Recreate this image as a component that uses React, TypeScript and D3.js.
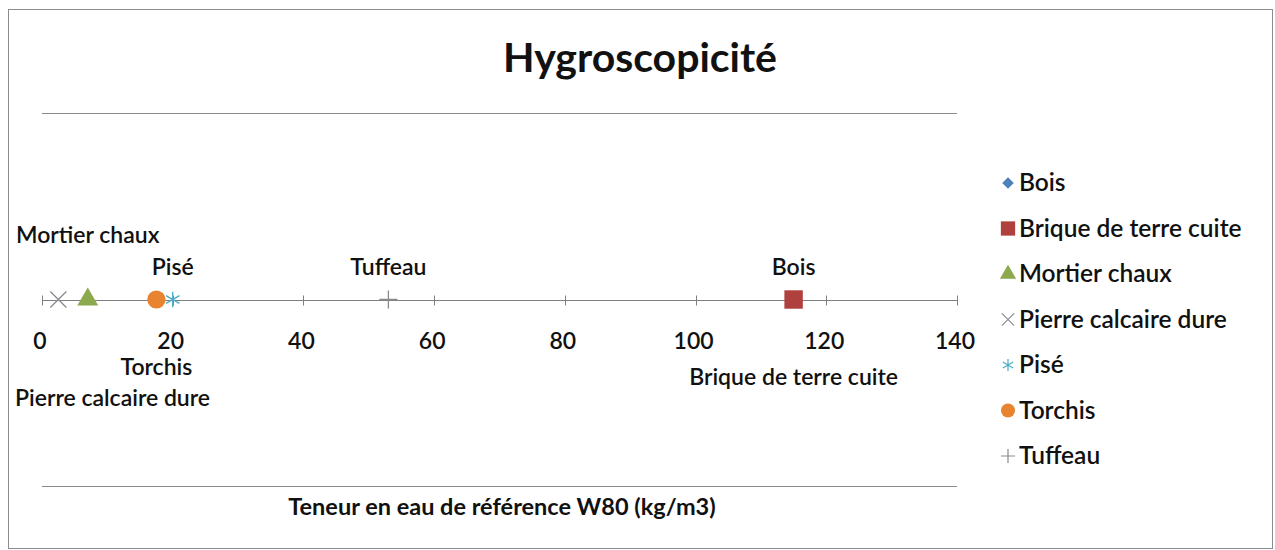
import * as d3 from "d3";
import React, { useEffect, useRef } from "react";

// series (one point each)
const materials = [
  "Bois",
  "Brique de terre cuite",
  "Mortier chaux",
  "Pierre calcaire dure",
  "Pisé",
  "Torchis",
  "Tuffeau",
];
const w80 = [115, 115, 7, 2.5, 20, 17.5, 53];
const yValues = [0, 0, 0, 0, 0, 0, 0];
const xTicks = [0, 20, 40, 60, 80, 100, 120, 140];

const W = 1275;
const H = 550;
const FONT = "Lato, 'Open Sans', sans-serif";

const markers = [
  { symbol: d3.symbolSquare, size: 110, rotate: 45, fill: "#4F81BD", stroke: "none" },
  { symbol: d3.symbolSquare, size: 340, rotate: 0, fill: "#B0403D", stroke: "none" },
  { symbol: d3.symbolTriangle, size: 190, rotate: 0, fill: "#8CA94E", stroke: "none" },
  { symbol: d3.symbolTimes, size: 170, rotate: 0, fill: "none", stroke: "#8a8a92" },
  { symbol: d3.symbolAsterisk, size: 170, rotate: 0, fill: "none", stroke: "#4BACC6" },
  { symbol: d3.symbolCircle, size: 260, rotate: 0, fill: "#E8832F", stroke: "none" },
  { symbol: d3.symbolPlus, size: 110, rotate: 0, fill: "none", stroke: "#8a8a8a" },
];
// data label offset from the point
const labelPos = [
  { dy: -25 },
  { dy: 85 },
  { dy: -57 },
  { dy: 106 },
  { dy: -25 },
  { dy: 75 },
  { dy: -25 },
];

export default function App() {
  const svgRef = useRef(null);

  useEffect(() => {
    const svg = d3.select(svgRef.current);
    svg.selectAll("*").remove();

    const x = d3.scaleLinear().domain([0, 140]).range([42, 957]);
    const y = d3.scaleLinear().domain([-1, 1]).range([486, 113]);

    // frame
    svg.append("rect")
      .attr("x", 8.5).attr("y", 9.5)
      .attr("width", 1264).attr("height", 539)
      .attr("fill", "white").attr("stroke", "#8c8c8c");

    svg.append("text")
      .attr("x", 640).attr("y", 72)
      .attr("text-anchor", "middle")
      .attr("font-family", FONT).attr("font-weight", 700)
      .attr("font-size", 41).attr("fill", "#111")
      .text("Hygroscopicité");

    // gridlines at -1 and 1
    svg.append("g").selectAll("line")
      .data([-1, 1])
      .enter().append("line")
      .attr("x1", x(0)).attr("x2", x(140))
      .attr("y1", (d) => Math.round(y(d)) + 0.5)
      .attr("y2", (d) => Math.round(y(d)) + 0.5)
      .attr("stroke", "#8a8a8a");

    // x axis crossing at y = 0
    const y0 = Math.round(y(0)) + 0.5;
    const axis = svg.append("g").attr("transform", `translate(0,${y0})`);
    axis.append("line")
      .attr("x1", x(0)).attr("x2", x(140))
      .attr("stroke", "#7f7f7f");
    axis.selectAll("line.tick")
      .data(xTicks)
      .enter().append("line")
      .attr("class", "tick")
      .attr("x1", (d) => Math.round(x(d)) + 0.5)
      .attr("x2", (d) => Math.round(x(d)) + 0.5)
      .attr("y1", -5).attr("y2", 5)
      .attr("stroke", "#7f7f7f");
    axis.selectAll("text")
      .data(xTicks)
      .enter().append("text")
      .attr("x", (d) => x(d) - 2)
      .attr("y", 48)
      .attr("text-anchor", "middle")
      .attr("font-family", FONT).attr("font-weight", 600)
      .attr("font-size", 23).attr("fill", "#111")
      .text((d) => d);

    const pts = materials.map((m, i) => ({ name: m, x: w80[i], y: yValues[i], i }));

    // points, drawn in series order
    svg.append("g").selectAll("path")
      .data(pts)
      .enter().append("path")
      .attr("transform", (d) => `translate(${x(d.x)},${y(d.y)}) rotate(${markers[d.i].rotate})`)
      .attr("d", (d) => d3.symbol(markers[d.i].symbol, markers[d.i].size)())
      .attr("fill", (d) => markers[d.i].fill)
      .attr("stroke", (d) => markers[d.i].stroke)
      .attr("stroke-width", 1.3);

    // data labels, kept inside the chart area
    const labels = svg.append("g").selectAll("text")
      .data(pts)
      .enter().append("text")
      .attr("x", (d) => x(d.x))
      .attr("y", (d) => y(d.y) + labelPos[d.i].dy)
      .attr("text-anchor", "middle")
      .attr("font-family", FONT).attr("font-weight", 600)
      .attr("font-size", 23).attr("fill", "#111")
      .text((d) => d.name);
    labels.each(function (d) {
      const t = d3.select(this);
      const w = (this as SVGTextElement).getComputedTextLength();
      const cx = x(d.x);
      if (cx - w / 2 < 15) t.attr("x", 15 + w / 2);
    });

    svg.append("text")
      .attr("x", 502).attr("y", 515)
      .attr("text-anchor", "middle")
      .attr("font-family", FONT).attr("font-weight", 700)
      .attr("font-size", 23.5).attr("fill", "#111")
      .text("Teneur en eau de référence W80 (kg/m3)");

    // legend
    const legend = svg.append("g").attr("transform", "translate(1008,183)");
    const rows = legend.selectAll("g")
      .data(pts)
      .enter().append("g")
      .attr("transform", (d) => `translate(0,${d.i * 45.5})`);
    rows.append("path")
      .attr("transform", (d) => `rotate(${markers[d.i].rotate})`)
      .attr("d", (d) => d3.symbol(markers[d.i].symbol, markers[d.i].size * 0.6)())
      .attr("fill", (d) => markers[d.i].fill)
      .attr("stroke", (d) => markers[d.i].stroke)
      .attr("stroke-width", 1.2);
    rows.append("text")
      .attr("x", 11).attr("y", 8)
      .attr("font-family", FONT).attr("font-weight", 600)
      .attr("font-size", 24.5).attr("fill", "#111")
      .text((d) => d.name);
  }, []);

  return (
    <svg
      ref={svgRef}
      width={W}
      height={H}
      style={{ position: "absolute", left: 0, top: 0 }}
    />
  );
}
